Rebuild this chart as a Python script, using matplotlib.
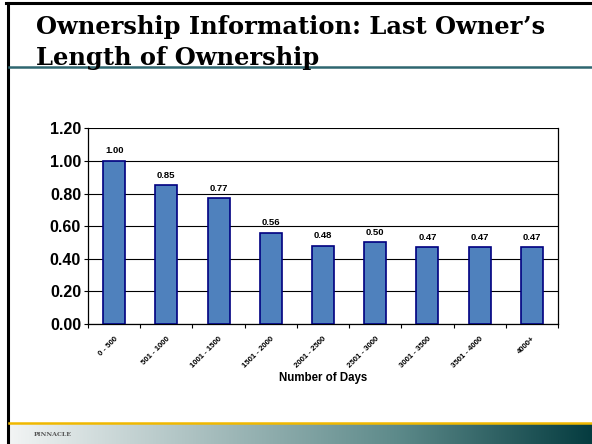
import numpy as np
import matplotlib.pyplot as plt
from matplotlib.lines import Line2D
from matplotlib.colors import LinearSegmentedColormap

# data
CATEGORIES = ["0 - 500", "501 - 1000", "1001 - 1500", "1501 - 2000", "2001 - 2500",
              "2501 - 3000", "3001 - 3500", "3501 - 4000", "4000+"]
VALUES = [1.00, 0.85, 0.77, 0.56, 0.48, 0.50, 0.47, 0.47, 0.47]
Y_TICKS = [0.0, 0.2, 0.4, 0.6, 0.8, 1.0, 1.2]

W, H = 592, 444


def px(x0, y0, x1, y1):
    # pixel box (top-left origin) -> figure fraction rect
    return [x0 / W, 1 - y1 / H, (x1 - x0) / W, (y1 - y0) / H]


fig = plt.figure(figsize=(W / 100, H / 100), dpi=100)
fig.patch.set_facecolor("white")

# slide decorations
fig.add_artist(Line2D([6 / W, 1], [1 - 3 / H, 1 - 3 / H], color="black", lw=2.2,
                      transform=fig.transFigure))
fig.add_artist(Line2D([8 / W, 8 / W], [0, 1 - 3 / H], color="black", lw=2.2,
                      transform=fig.transFigure))
fig.add_artist(Line2D([9 / W, 1], [1 - 67 / H, 1 - 67 / H], color="#2e6670", lw=1.8,
                      transform=fig.transFigure))

fig.text(36 / W, 1 - 34 / H, "Ownership Information: Last Owner\u2019s",
         family="DejaVu Serif", weight="bold", fontsize=17.4, color="black")
fig.text(36 / W, 1 - 65 / H, "Length of Ownership",
         family="DejaVu Serif", weight="bold", fontsize=17.4, color="black")

# footer gradient band
foot = fig.add_axes(px(9, 423, W, H))
grad = np.linspace(0, 1, 256).reshape(1, -1)
cmap = LinearSegmentedColormap.from_list("foot", ["#f2f4f4", "#a9bfbf", "#5d8a8a", "#053c40"])
foot.imshow(grad, aspect="auto", cmap=cmap, extent=[0, 1, 0, 1])
foot.set_axis_off()
fig.add_artist(Line2D([9 / W, 1], [1 - 422.5 / H, 1 - 422.5 / H], color="#f0b800", lw=1.8,
                      transform=fig.transFigure))
fig.text(34 / W, 1 - 436 / H, "PINNACLE", fontsize=4.5, weight="bold",
         color="#555555", family="DejaVu Serif")

# chart
ax = fig.add_axes(px(88, 128.4, 558, 324))
x = np.arange(len(CATEGORIES))
ax.bar(x, VALUES, width=0.42, color="#4f81bd", edgecolor="#000080", linewidth=1.2, zorder=3)
for xi, v in zip(x, VALUES):
    ax.text(xi, v + 0.035, f"{v:.2f}", ha="center", va="bottom", fontsize=6.8,
            weight="bold", family="Liberation Sans")

ax.set_xlim(-0.5, len(CATEGORIES) - 0.5)
ax.set_ylim(0, 1.2)
ax.set_yticks(Y_TICKS)
ax.set_yticklabels([f"{t:.2f}" for t in Y_TICKS], fontsize=11.5, weight="bold",
                   family="Liberation Sans")
ax.tick_params(axis="y", length=3, width=0.8, pad=2)
ax.grid(axis="y", color="black", lw=0.8, zorder=0)

ax.set_xticks(x)
ax.set_xticklabels(CATEGORIES, rotation=45, ha="right", rotation_mode="anchor",
                   fontsize=5.6, weight="bold", family="Liberation Sans")
ax.tick_params(axis="x", which="major", length=0, pad=8)
ax.set_xticks(np.arange(-0.5, len(CATEGORIES)), minor=True)
ax.tick_params(axis="x", which="minor", length=3, width=0.8)

for s in ax.spines.values():
    s.set_linewidth(0.9)
ax.spines["top"].set_visible(False)

ax.set_xlabel("Number of Days", fontsize=8.3, weight="bold", family="Liberation Sans")
ax.xaxis.set_label_coords(0.5, -0.276)
ax.xaxis.label.set_va("center")

fig.savefig("out.png", dpi=100)
